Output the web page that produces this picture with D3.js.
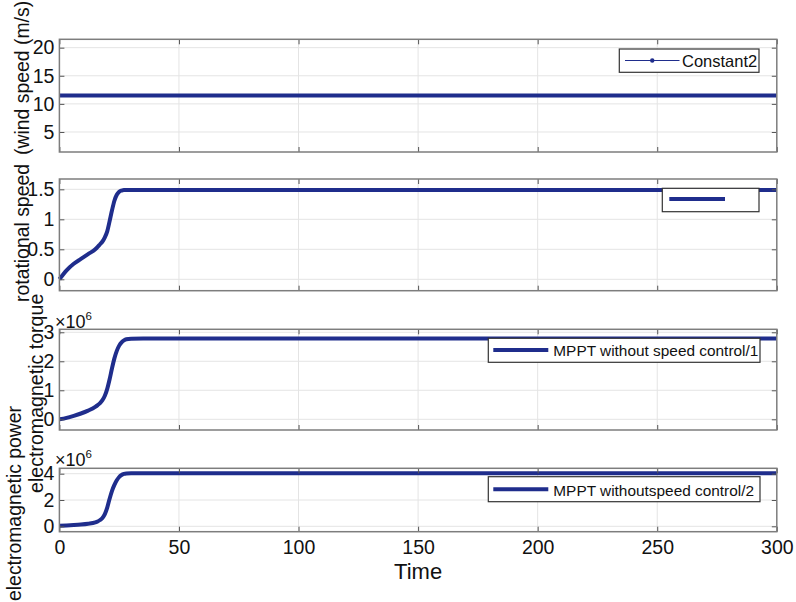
<!DOCTYPE html>
<html><head><meta charset="utf-8">
<script src="https://cdn.jsdelivr.net/npm/d3@7"></script>
<style>body{margin:0;background:#fff}svg{display:block;font-family:"Liberation Sans",Arial,sans-serif}</style>
</head><body><svg id="c" width="796" height="602"></svg>
<script>
// ---- data ----
const time = [0,3,6,9,12,15,16,17,18,19,20,21,22,23,24,25,26,27,28,30,35,50,100,150,200,250,300];
const windSpeed = time.map(() => 11.5);
const rotSpeed = [0,0.15,0.26,0.34,0.42,0.50,0.54,0.585,0.63,0.70,0.80,0.97,1.15,1.31,1.41,1.46,1.48,1.49,1.49,1.49,1.49,1.49,1.49,1.49,1.49,1.49,1.49];
const torque = [0,0.05,0.12,0.20,0.30,0.43,0.49,0.56,0.66,0.81,1.05,1.38,1.76,2.10,2.36,2.54,2.65,2.72,2.76,2.78,2.79,2.79,2.79,2.79,2.79,2.79,2.79]; // x1e6
const power = [0.05,0.07,0.10,0.14,0.20,0.30,0.37,0.48,0.64,0.93,1.42,2.10,2.70,3.15,3.50,3.75,3.90,3.98,4.02,4.04,4.04,4.04,4.04,4.04,4.04,4.04,4.04]; // x1e6
const xTicks = [0,50,100,150,200,250,300];
const yTicks1 = [5,10,15,20];
const yTicks2 = [0,0.5,1,1.5];
const yTicks3 = [0,1,2,3];
const yTicks4 = [0,2,4];
const yLim1 = [1.44,21.49], yLim2 = [-0.19,1.672], yLim3 = [-0.369,3.103], yLim4 = [-0.41,4.41];
const legend1 = "Constant2", legend2 = "", legend3 = "MPPT without speed control/1", legend4 = "MPPT withoutspeed control/2";
const yLabel1 = "(wind speed (m/s)", yLabel2 = "rotational speed", yLabel3 = "electromagnetic torque", yLabel4 = "electromagnetic power";

// ---- layout ----
const svg = d3.select("#c");
const X0 = 59.4, X1 = 776.8;
const x = d3.scaleLinear().domain([0,300]).range([X0,X1]);
const lineColor = "#1f2d8c";
const FF = "Liberation Sans, Arial, sans-serif";

const panels = [
  {top:39.3,bottom:152,lim:yLim1,ticks:yTicks1,vals:windSpeed},
  {top:179,bottom:290.7,lim:yLim2,ticks:yTicks2,vals:rotSpeed},
  {top:329.3,bottom:430,lim:yLim3,ticks:yTicks3,vals:torque},
  {top:468.3,bottom:531.7,lim:yLim4,ticks:yTicks4,vals:power}
];

panels.forEach((p,i) => {
  const y = d3.scaleLinear().domain(p.lim).range([p.bottom,p.top]);
  const g = svg.append("g");
  g.append("rect").attr("x",X0).attr("y",p.top).attr("width",X1-X0).attr("height",p.bottom-p.top).attr("fill","#fff");
  // grid
  g.selectAll(".gx").data(xTicks.slice(1,-1)).join("line")
    .attr("x1",d=>x(d)).attr("x2",d=>x(d)).attr("y1",p.top).attr("y2",p.bottom)
    .attr("stroke","#e4e4e4").attr("stroke-width",1);
  g.selectAll(".gy").data(p.ticks).join("line")
    .attr("x1",X0).attr("x2",X1).attr("y1",d=>y(d)).attr("y2",d=>y(d))
    .attr("stroke","#e4e4e4").attr("stroke-width",1);
  // data line
  const line = d3.line().x((d,j)=>x(time[j])).y(d=>y(d)).curve(d3.curveMonotoneX);
  g.append("path").datum(p.vals).attr("d",line).attr("fill","none")
    .attr("stroke",lineColor).attr("stroke-width",4).attr("stroke-linejoin","round");
  // axes (inward ticks)
  const ax = (gen, tr) => g.append("g").attr("transform",tr).call(gen)
    .call(s=>s.select(".domain").remove())
    .call(s=>s.selectAll("line").attr("stroke","#555"));
  const left = ax(d3.axisLeft(y).tickValues(p.ticks).tickSize(-5).tickPadding(5).tickFormat(d3.format("")), `translate(${X0},0)`);
  left.selectAll("text").attr("font-size",19.5).attr("fill","#111").attr("font-family",FF);
  ax(d3.axisRight(y).tickValues(p.ticks).tickSize(-5).tickFormat(""), `translate(${X1},0)`);
  ax(d3.axisTop(x).tickValues(xTicks).tickSize(-5).tickFormat(""), `translate(0,${p.top})`);
  const bot = ax(d3.axisBottom(x).tickValues(xTicks).tickSize(-5).tickPadding(8).tickFormat(i===3?d3.format(""):""), `translate(0,${p.bottom})`);
  bot.selectAll("text").attr("font-size",19.5).attr("fill","#111").attr("font-family",FF);
  // border
  g.append("rect").attr("x",X0).attr("y",p.top).attr("width",X1-X0).attr("height",p.bottom-p.top)
    .attr("fill","none").attr("stroke","#7d7d7d").attr("stroke-width",1.5);
  p.y = y; p.g = g;
});

// legends
function legend(g, bx, by, bw, bh, ly, lx1, lx2, text, tx, ty, fs, thin) {
  g.append("rect").attr("x",bx).attr("y",by).attr("width",bw).attr("height",bh)
    .attr("fill","#fff").attr("stroke","#333").attr("stroke-width",1.2);
  g.append("line").attr("x1",lx1).attr("x2",lx2).attr("y1",ly).attr("y2",ly)
    .attr("stroke",lineColor).attr("stroke-width",thin?1.2:4);
  if (thin) g.append("circle").attr("cx",(lx1+lx2)/2).attr("cy",ly).attr("r",2.2).attr("fill",lineColor);
  if (text) g.append("text").attr("x",tx).attr("y",ty).attr("font-size",fs).attr("fill","#111").text(text);
}
legend(panels[0].g, 619.3,49,139.7,23.3, 60.5, 625,679.5, legend1, 682,66.5, 16.5, true);
legend(panels[1].g, 662.3,188.3,96.7,23.4, 199, 669.3,725, legend2, 0,0, 16, false);
legend(panels[2].g, 488.3,338.3,271.7,24, 350, 493.3,548.3, legend3, 553.3,356, 15.4, false);
legend(panels[3].g, 488.3,476.7,271.7,25, 489.3, 493.3,548.3, legend4, 553.3,495.5, 15.4, false);

// x10^6 labels
[327.5, 465.5].forEach(by => {
  const t = svg.append("text").attr("x",55).attr("y",by).attr("font-size",18).attr("fill","#111");
  t.append("tspan").text("\u00d710");
  t.append("tspan").attr("dy",-8).attr("font-size",11.5).text("6");
});

// y labels (rotated)
function ylab(text, xb, yStart, fs) {
  svg.append("text").attr("transform",`translate(${xb},${yStart}) rotate(-90)`)
    .attr("font-size",fs).attr("fill","#111").attr("text-anchor","start").text(text);
}
ylab(yLabel1, 29, 155, 19.4);
ylab(yLabel2, 29, 302, 19.4);
ylab(yLabel3, 43, 493, 19.6);
ylab(yLabel4, 21, 601, 19.4);

// x label
svg.append("text").attr("x",(X0+X1)/2).attr("y",578.5).attr("text-anchor","middle")
  .attr("font-size",22).attr("fill","#111").text("Time");
</script></body></html>
